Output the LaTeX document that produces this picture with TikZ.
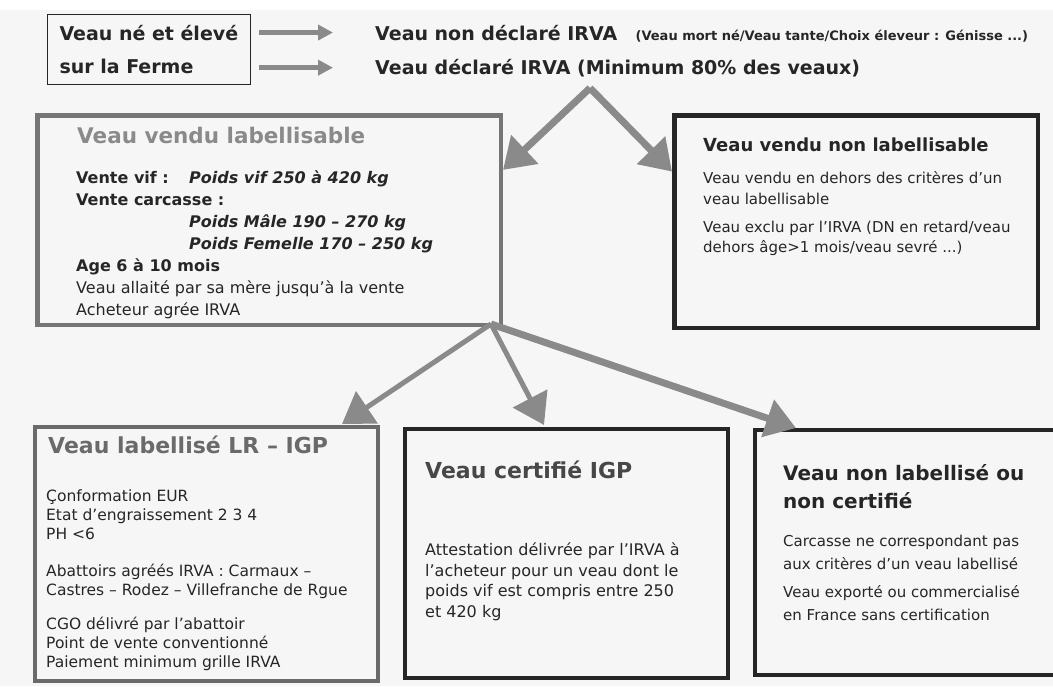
\documentclass[tikz,border=0pt]{standalone}
\usepackage{fontspec}
\setmainfont{DejaVu Sans}
\usetikzlibrary{positioning, arrows.meta, calc}

\definecolor{ink}{HTML}{262626}
\definecolor{framegrey}{HTML}{767676}
\definecolor{titlegrey}{HTML}{8A8A8A}
\definecolor{arrowgrey}{HTML}{8A8A8A}
\definecolor{paper}{HTML}{F6F6F6}

\begin{document}
\begin{tikzpicture}[x=1pt, y=-1pt, inner sep=0pt, text=ink]
    \tikzset{frame/.style={draw=ink, line width=4.5pt, anchor=north west}}
    \tikzset{greyframe/.style={frame, draw=framegrey}}
    \tikzset{boxtitle/.style={anchor=base west, font=\fontsize{#1}{28}\selectfont\bfseries}}
    \tikzset{boxtext/.style 2 args={anchor=north west, align=left, font=\fontsize{#1}{#2}\selectfont}}
    \tikzset{bigarrow/.style={draw=arrowgrey, line width=#1, -{Triangle[length=30pt, width=38pt]}}}
    \tikzset{flatarrow/.style={draw=arrowgrey, line width=5.5pt, -{Triangle[length=15pt, width=15pt]}}}

    \useasboundingbox (0,0) rectangle (1053,686);
    \clip (0,0) rectangle (1053,686);
    \fill[paper] (0,10) rectangle (1053,686);

    % top line
    \node[draw=ink, line width=1pt, anchor=north west, align=left, inner xsep=12pt, inner ysep=11pt,
          font=\fontsize{19}{33}\selectfont\bfseries] (farm) at (47,14) {Veau né et élevé\\sur la Ferme};
    \node[anchor=base west, font=\fontsize{19}{24}\selectfont\bfseries] (nd) at (375,40) {Veau non déclaré IRVA};
    \node[anchor=base west, xshift=18pt, font=\fontsize{13}{16}\selectfont\bfseries] (ndnote) at (nd.base east)
          {(Veau mort né/Veau tante/Choix éleveur : Génisse ...)};
    \node[anchor=base west, font=\fontsize{19}{24}\selectfont\bfseries] (dec) at (375,74) {Veau déclaré IRVA (Minimum 80\% des veaux)};
    \draw[flatarrow, shorten <=8pt, shorten >=42pt] (farm.east |- nd.west) -- (nd.west);
    \draw[flatarrow, shorten <=8pt, shorten >=42pt] (farm.east |- dec.west) -- (dec.west);

    % sold calves
    \node[greyframe, minimum width=463.5pt, minimum height=209.5pt] (lab) at (35,113) {};
    \node[boxtitle=21.5, text=titlegrey] (labtitle) at ($(lab.north west)+(42,30)$) {Veau vendu labellisable};
    \node[boxtext={16}{22}] (labtext) at ($(lab.north west)+(41,57.5)$)
          {\makebox[113pt][l]{\bfseries Vente vif :}\textbf{\textit{Poids vif 250 à 420 kg}}\\
           \textbf{Vente carcasse :}\\
           \hspace*{113pt}\textbf{\textit{Poids Mâle 190 – 270 kg}}\\
           \hspace*{113pt}\textbf{\textit{Poids Femelle 170 – 250 kg}}\\
           \textbf{Age 6 à 10 mois}\\
           Veau allaité par sa mère jusqu’à la vente\\
           Acheteur agrée IRVA};

    \node[frame, minimum width=363.5pt, minimum height=212.5pt] (nonlab) at (672,113) {};
    \node[boxtitle=18] (nonlabtitle) at ($(nonlab.north west)+(31,38)$) {Veau vendu non labellisable};
    \node[boxtext={15}{20.5}] (nonlabtext) at ($(nonlab.north west)+(31,58.3)$)
          {Veau vendu en dehors des critères d’un\\
           veau labellisable\\[7.5pt]
           Veau exclu par l’IRVA (DN en retard/veau\\
           dehors âge>1 mois/veau sevré ...)};

    % outcomes
    \node[greyframe, draw=framegrey!90!black, line width=4pt, minimum width=343pt, minimum height=254pt] (lr) at (33,425) {};
    \node[boxtitle=22, text=framegrey!90!black] (lrtitle) at ($(lr.north west)+(15,28)$) {Veau labellisé LR – IGP};
    \node[boxtext={15.5}{18.8}] (lrtext) at ($(lr.north west)+(13,65)$)
          {Çonformation EUR\\
           Etat d’engraissement 2 3 4\\
           PH <6\\[18.6pt]
           Abattoirs agréés IRVA : Carmaux –\\
           Castres – Rodez – Villefranche de Rgue\\[15pt]
           CGO délivré par l’abattoir\\
           Point de vente conventionné\\
           Paiement minimum grille IRVA};

    \node[frame, line width=4pt, minimum width=323pt, minimum height=249pt] (igp) at (403,427) {};
    \node[boxtitle=22, text=ink!85] (igptitle) at ($(igp.north west)+(22,51)$) {Veau certifié IGP};
    \node[boxtext={16}{20.7}] (igptext) at ($(igp.north west)+(22,115.5)$)
          {Attestation délivrée par l’IRVA à\\
           l’acheteur pour un veau dont le\\
           poids vif est compris entre 250\\
           et 420 kg};

    \node[frame, line width=4pt, minimum width=320pt, minimum height=245pt] (nlc) at (753,428) {};
    \node[boxtext={20}{28}, font=\fontsize{20}{28}\selectfont\bfseries] (nlctitle) at ($(nlc.north west)+(30,36.4)$)
          {Veau non labellisé ou\\non certifié};
    \node[boxtext={15}{23}] (nlctext) at ($(nlc.north west)+(30,107.3)$)
          {Carcasse ne correspondant pas\\
           aux critères d’un veau labellisé\\[5pt]
           Veau exporté ou commercialisé\\
           en France sans certification};

    % arrows
    \coordinate (split) at (590,88);
    \coordinate (fork) at ($(lab.south east)+(-12,-3)$);
    \path (split) edge[bigarrow=7pt] ($(lab.north east)!0.266!(lab.south east)$)
          (split) edge[bigarrow=7pt] ($(nonlab.north west)!0.27!(nonlab.south west)$);
    \path (fork) edge[bigarrow=5pt] ($(lr.north east)+(-38,-1)$)
          (fork) edge[bigarrow=5pt] ($(igp.north west)+(141,-2)$)
          (fork) edge[bigarrow=7pt] ($(nlc.north west)+(43,0)$);
\end{tikzpicture}
\end{document}
